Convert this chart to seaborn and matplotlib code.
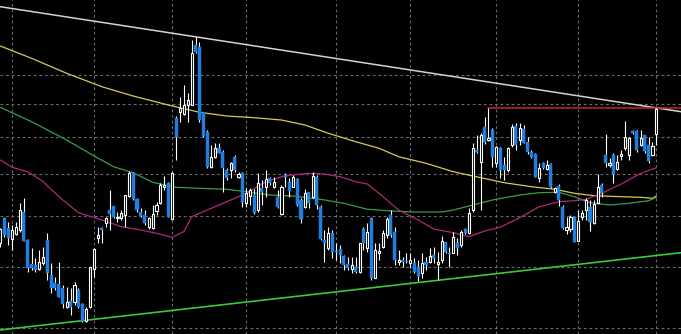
import numpy as np
import pandas as pd
import matplotlib
matplotlib.use("Agg")
import matplotlib.pyplot as plt
import seaborn as sns

# ---------------- data (price units, arbitrary scale) ----------------
opens = [91,116,106,95,100,104,122,94,70,69,
         65,71,94,59,51,50,46,27,33,32,
         44,30,13,27,65,96,106,111,124,128,
         116,116,119,138,161,135,122,119,107,106,
         123,131,147,151,115,216,222,220,229,229,
         289,287,222,202,167,177,186,182,164,164,
         177,157,161,131,138,139,124,146,147,156,
         147,137,120,159,152,147,155,134,127,142,
         137,157,127,94,86,101,83,85,78,70,
         65,67,62,105,86,116,56,81,87,99,
         119,102,72,74,73,71,71,67,61,72,
         72,79,70,74,92,81,81,91,89,105,
         101,124,184,172,207,194,204,171,186,169,
         164,189,208,194,205,192,182,180,156,171,
         165,170,142,148,127,104,105,117,93,117,
         124,127,111,131,149,179,169,179,165,178,
         186,179,203,203,189,199,189,179,200]
highs = [106,117,112,109,112,131,136,95,86,76,
         84,87,101,71,57,72,49,47,46,52,
         46,31,27,67,86,107,107,117,144,128,
         122,124,139,163,162,136,126,124,117,129,
         132,151,158,152,162,218,237,249,241,294,
         297,292,222,204,189,191,191,184,166,172,
         179,162,162,146,146,145,161,154,164,157,
         157,144,149,161,156,159,156,136,145,142,
         162,159,129,104,107,104,91,89,79,77,
         77,77,91,107,111,117,91,91,104,117,
         124,107,84,77,81,81,76,74,81,77,
         86,87,82,98,92,87,102,96,104,106,
         126,191,199,201,217,226,206,188,187,177,
         187,210,211,211,209,197,184,181,171,172,
         174,171,147,150,129,117,119,117,124,124,
         136,134,134,160,151,200,176,181,179,184,
         213,197,204,204,204,199,197,192,226]
lows = [87,97,89,84,99,102,93,62,64,62,
        64,69,54,41,44,37,26,26,19,29,
        26,12,12,26,57,91,91,107,104,116,
        112,114,107,137,134,122,117,109,105,105,
        119,130,144,117,114,174,212,219,212,229,
        281,212,197,166,166,176,181,142,154,156,
        162,156,127,127,129,120,122,129,137,149,
        146,126,119,147,137,147,128,111,126,126,
        136,125,94,72,84,76,74,71,64,64,
        61,61,61,84,82,54,56,74,86,96,
        97,69,69,67,71,66,61,53,56,64,
        71,71,54,71,81,67,81,79,87,100,
        100,122,181,124,190,193,167,167,156,154,
        162,187,184,189,191,180,176,157,152,165,
        164,146,141,128,105,100,102,92,93,114,
        114,103,110,130,137,167,167,151,164,174,
        184,174,200,182,188,181,171,178,189]
closes = [105,99,96,104,107,124,93,66,66,64,
          72,77,61,46,46,37,30,32,27,49,
          27,13,25,67,85,99,104,116,120,117,
          117,121,139,161,135,124,118,111,116,120,
          129,149,149,117,161,197,226,229,234,281,
          282,214,198,167,177,186,181,166,156,171,
          164,160,132,141,144,121,151,142,155,151,
          152,127,147,157,143,157,129,115,141,131,
          158,129,95,91,101,82,82,79,69,66,
          69,62,91,91,102,56,84,83,101,115,
          99,74,74,72,72,74,62,58,71,69,
          78,76,72,93,82,80,97,86,102,101,
          121,186,182,199,192,196,177,187,164,164,
          186,207,189,206,191,182,177,157,166,166,
          169,147,146,134,106,107,117,92,113,121,
          134,112,130,147,141,171,171,160,172,180,
          197,196,201,184,196,183,173,188,225]

# moving averages (bar index, value)
ma_long_idx = [0,8,17,26,34,43,51,58,65,72,78,84,91,97,102,109,116,121,129,136,142,147,152,159,164,167,168]
ma_long_val = [288,275.7,260.7,247.3,238,229,221.7,218,216.3,214,209,200.7,192.3,185.7,177.3,170.7,
               162.3,158,151.3,147.3,144.7,140.7,138.3,137.3,136.7,135.7,138]
ma_mid_idx = [0,8,17,24,29,34,39,45,51,58,63,69,75,82,88,94,99,106,113,116,121,126,133,138,143,147,151,156,161,166,168]
ma_mid_val = [226.7,212.3,194,178,167.3,161.3,151.7,146.7,145.7,144.7,142.3,139,138,134.7,130.7,124.7,
              123.3,122,122,124,129,134,139,141.3,141.7,137.3,131.3,129,130.7,133.3,136.7]
ma_short_idx = [0,3,7,11,15,20,26,31,36,40,44,47,49,54,58,63,68,73,79,83,87,91,94,98,102,107,111,116,
                120,124,128,133,138,143,147,150,154,159,164,168]
ma_short_val = [174,166.7,162.3,152.3,137.3,121.3,114,107.3,104,100.7,96.7,102.3,117.3,125.7,132.3,
                140.7,152.3,158.3,160.7,160,157.3,152.3,150,137.3,124,114,105,101.3,97.3,103,106.7,
                116.3,127.3,132.3,133.3,134.7,140.7,150,160.7,166.3]

# trend lines (bar index, value)
res_line_idx = [0, 174.3]
res_line_val = [327.3, 222.3]
hline_idx = [125, 174.3]
hline_val = [226, 226]
sup_line_idx = [-0.1, 174.3]
sup_line_val = [4, 81.3]

# grid levels
vgrid_bars = [3, 24, 44, 63, 86, 105, 127, 148, 168]
hgrid_levels = [6, 67, 118, 160, 197, 230, 259]

# ---------------- plotting ----------------
sns.set_style("dark")
plt.rcParams['font.family'] = ['DejaVu Sans']

df = pd.DataFrame({"open": opens, "high": highs, "low": lows, "close": closes})
df["idx"] = np.arange(len(df))
up = df["close"] >= df["open"]

fig = plt.figure(figsize=(6.81, 3.34), dpi=100, facecolor="black")
ax = fig.add_axes([0, 0, 1, 1])
ax.set_facecolor("black")

BLUE = "#1f80e2"

# grid
for gx in vgrid_bars:
    ax.axvline(gx, color="#6a6a6a", lw=0.8, ls=(0, (2.5, 2.5)), zorder=1)
for gy in hgrid_levels:
    ax.axhline(gy, color="#6a6a6a", lw=0.8, ls=(0, (2.5, 2.5)), zorder=1)

# moving averages
sns.lineplot(x=ma_long_idx, y=ma_long_val, ax=ax, color="#d8c85e", lw=0.9, zorder=2)
sns.lineplot(x=ma_mid_idx, y=ma_mid_val, ax=ax, color="#3a9e48", lw=0.9, zorder=2)
sns.lineplot(x=ma_short_idx, y=ma_short_val, ax=ax, color="#b0287c", lw=0.9, zorder=2)

# trend lines
sns.lineplot(x=res_line_idx, y=res_line_val, ax=ax, color="#d4d4d4", lw=1.1, zorder=2)
sns.lineplot(x=hline_idx, y=hline_val, ax=ax, color="#cc2030", lw=1.1, zorder=2)
sns.lineplot(x=sup_line_idx, y=sup_line_val, ax=ax, color="#3cc83c", lw=1.2, zorder=2)

# wicks
ax.vlines(df["idx"], df["low"], df["high"], color="white", lw=0.8, zorder=3)

# bodies
bull = df[up]
bear = df[~up]
ax.bar(bear["idx"], bear["close"] - bear["open"], bottom=bear["open"], width=0.78,
       color=BLUE, edgecolor=BLUE, linewidth=0.3, zorder=4)
bh = (bull["close"] - bull["open"]).clip(lower=0.6)
ax.bar(bull["idx"], bh, bottom=bull["open"], width=0.55,
       color="black", edgecolor="white", linewidth=0.8, zorder=4)

ax.set_xlim(-0.077, 174.3)
ax.set_ylim(0, 334)
ax.set_xticks([])
ax.set_yticks([])
ax.grid(False)
for s in ax.spines.values():
    s.set_visible(False)
if ax.get_legend():
    ax.get_legend().remove()

fig.savefig("out.png", dpi=100, facecolor="black")
